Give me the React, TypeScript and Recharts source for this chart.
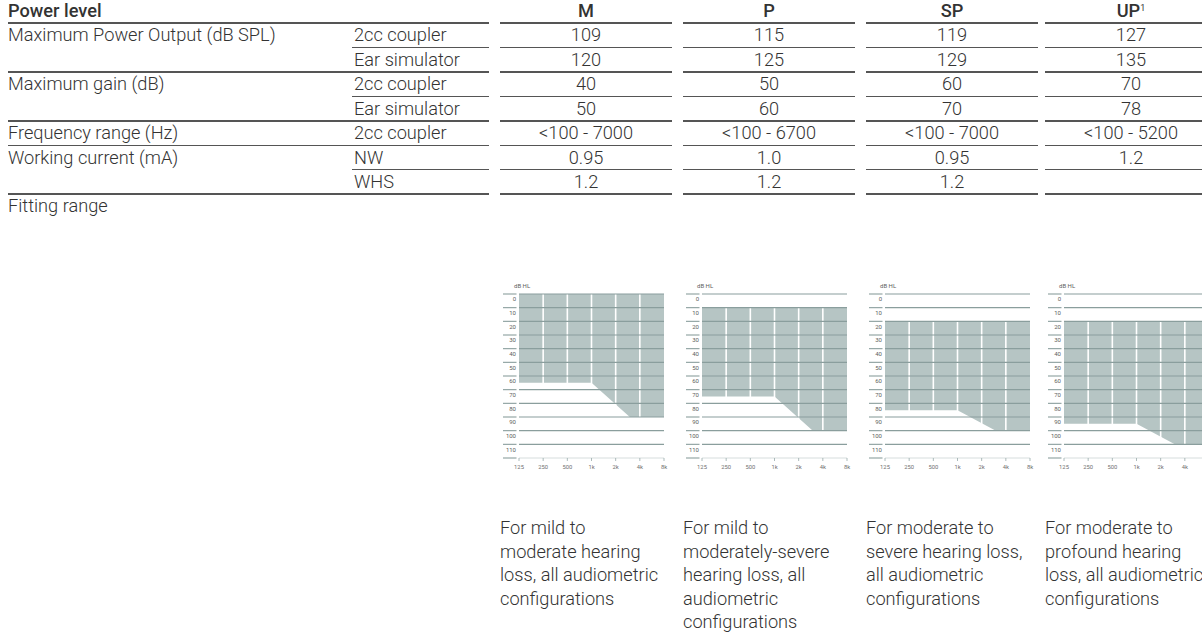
import React from 'react';
import { ComposedChart, Area, XAxis, YAxis, ReferenceLine } from 'recharts';

// ---------- table data ----------
const powerLevels = ['M', 'P', 'SP', 'UP'];
const powerSup = ['', '', '', '1'];
const rowLabels = ['Maximum Power Output (dB SPL)', '', 'Maximum gain (dB)', '', 'Frequency range (Hz)', 'Working current (mA)', ''];
const rowSubLabels = ['2cc coupler', 'Ear simulator', '2cc coupler', 'Ear simulator', '2cc coupler', 'NW', 'WHS'];
const mpo2cc = ['109', '115', '119', '127'];
const mpoEar = ['120', '125', '129', '135'];
const gain2cc = ['40', '50', '60', '70'];
const gainEar = ['50', '60', '70', '78'];
const freqRange = ['<100 - 7000', '<100 - 6700', '<100 - 7000', '<100 - 5200'];
const currentNW = ['0.95', '1.0', '0.95', '1.2'];
const currentWHS = ['1.2', '1.2', '1.2', ''];
const rowValues = [mpo2cc, mpoEar, gain2cc, gainEar, freqRange, currentNW, currentWHS];
const rowFullRule = [false, true, false, true, true, false, true];

// ---------- fitting range data ----------
const fitFreqs = [125, 1000, 3000, 8000];
const topM = [0, 0, 0, 0];
const bottomM = [65, 65, 90, 90];
const topP = [10, 10, 10, 10];
const bottomP = [75, 75, 100, 100];
const topSP = [20, 20, 20, 20];
const bottomSP = [85, 85, 100, 100];
const topUP = [20, 20, 20, 20];
const bottomUP = [95, 95, 110, 110];
const fitTops = [topM, topP, topSP, topUP];
const fitBottoms = [bottomM, bottomP, bottomSP, bottomUP];

const freqTicks = [125, 250, 500, 1000, 2000, 4000, 8000];
const freqTickLabels = ['125', '250', '500', '1k', '2k', '4k', '8k'];
const dbTicks = [0, 10, 20, 30, 40, 50, 60, 70, 80, 90, 100, 110, 120];
const dbTickLabels = ['0', '10', '20', '30', '40', '50', '60', '70', '80', '90', '100', '110', ''];

const captions = [
  ['For mild to', 'moderate hearing', 'loss, all audiometric', 'configurations'],
  ['For mild to', 'moderately-severe', 'hearing loss, all', 'audiometric', 'configurations'],
  ['For moderate to', 'severe hearing loss,', 'all audiometric', 'configurations'],
  ['For moderate to', 'profound hearing', 'loss, all audiometric', 'configurations'],
];

// ---------- layout ----------
const VIEW_W = 1202;
const FONT = 'Roboto, "Open Sans", "DejaVu Sans", sans-serif';
const TEXT = '#333333';
const RULE = '#555555';
const col2X = 352;
const firstRuleStart = 8;
const firstRuleEnd = 489;
const colLefts = [500, 683, 866, 1045];
const colW = 172;
const headerRule = 23;
const pitch = 24.45;
const FILL = '#b6c5c4';
const GRID = '#8a9e9d';

const FreqTick = (props: any) => {
  const { x, y, payload, offsetX } = props;
  const i = freqTicks.indexOf(payload.value);
  const fits = offsetX + x + 4 <= VIEW_W;
  return (
    <g>
      <line x1={x} x2={x} y1={y} y2={y + 3} stroke="#98aaaa" strokeWidth={0.8} />
      {fits ? (
        <text x={x} y={y + 10.5} textAnchor="middle" fontSize={5.8} fill="#707070" fontFamily={FONT}>
          {freqTickLabels[i]}
        </text>
      ) : null}
    </g>
  );
};

const DbTick = (props: any) => {
  const { x, y, payload } = props;
  const i = dbTicks.indexOf(payload.value);
  return (
    <g>
      <line x1={x - 16} x2={x - 2.5} y1={y} y2={y} stroke={GRID} strokeWidth={1.1} />
      <text x={x - 3} y={y + 7.2} textAnchor="end" fontSize={6} fill="#606060" fontFamily={FONT}>
        {dbTickLabels[i]}
      </text>
    </g>
  );
};

function Audiogram({ top, bottom, offsetX }: { top: number[]; bottom: number[]; offsetX: number }) {
  const data = fitFreqs.map((f, i) => ({ f, range: [top[i], bottom[i]] }));
  return (
    <ComposedChart width={colW} height={200} data={data} margin={{ top: 14, right: 8, bottom: 0, left: 0 }}>
      <XAxis
        dataKey="f"
        type="number"
        scale="log"
        domain={[125, 8000]}
        ticks={freqTicks}
        interval={0}
        allowDataOverflow
        height={22}
        tickSize={0}
        tickMargin={0}
        axisLine={{ stroke: '#d6dddd', strokeWidth: 1 }}
        tickLine={false}
        tick={(p: any) => <FreqTick {...p} offsetX={offsetX} />}
      />
      <YAxis
        type="number"
        domain={[0, 120]}
        reversed
        ticks={dbTicks}
        interval={0}
        width={19}
        tickSize={0}
        tickMargin={0}
        axisLine={false}
        tickLine={false}
        tick={(p: any) => <DbTick {...p} />}
      />
      <Area
        dataKey="range"
        type="linear"
        fill={FILL}
        fillOpacity={1}
        stroke="none"
        dot={false}
        activeDot={false}
        isAnimationActive={false}
      />
      {freqTicks.slice(1, -1).map((f) => (
        <ReferenceLine key={'v' + f} x={f} stroke="#ffffff" strokeWidth={1.6} />
      ))}
      {dbTicks.slice(0, -1).map((v) => (
        <ReferenceLine key={'h' + v} y={v} stroke={GRID} strokeWidth={1.2} />
      ))}
    </ComposedChart>
  );
}

const Rule = ({ y, full }: { y: number; full: boolean }) => (
  <>
    <div style={{ position: 'absolute', left: full ? firstRuleStart : col2X, width: firstRuleEnd - (full ? firstRuleStart : col2X), top: y - 0.75, height: 1.5, background: RULE }} />
    {colLefts.map((cx, i) => (
      <div key={i} style={{ position: 'absolute', left: cx, width: colW, top: y - 0.75, height: 1.5, background: RULE }} />
    ))}
  </>
);

const Cell = ({ x, cy, w, align, children, bold }: any) => (
  <div
    style={{
      position: 'absolute',
      left: x,
      width: w,
      top: cy - 12,
      height: 24,
      lineHeight: '24px',
      textAlign: align,
      whiteSpace: 'nowrap',
      fontWeight: bold ? 500 : 300,
    }}
  >
    {children}
  </div>
);

export default function App() {
  const ruleYs = rowLabels.map((_, i) => headerRule + pitch * (i + 1));
  const centers = rowLabels.map((_, i) => headerRule + pitch * i + 12.3);
  const fittingCy = headerRule + pitch * 7 + 12;
  return (
    <div
      style={{
        position: 'absolute',
        left: 0,
        top: 0,
        width: VIEW_W,
        height: 637,
        overflow: 'hidden',
        background: '#fff',
        fontFamily: FONT,
        fontSize: 18.2,
        color: TEXT,
      }}
    >
      {/* header */}
      <Cell x={8} cy={11} w={300} align="left" bold>Power level</Cell>
      {powerLevels.map((p, i) => (
        <Cell key={p} x={colLefts[i]} cy={11} w={colW} align="center" bold>
          {p}
          {powerSup[i] ? <sup style={{ fontSize: 9, fontWeight: 400, verticalAlign: 'top', lineHeight: '18px' }}>{powerSup[i]}</sup> : null}
        </Cell>
      ))}
      <Rule y={headerRule} full />
      {rowLabels.map((lab, r) => (
        <React.Fragment key={r}>
          {lab ? <Cell x={8} cy={centers[r]} w={340} align="left">{lab}</Cell> : null}
          <Cell x={col2X + 2} cy={centers[r]} w={140} align="left">{rowSubLabels[r]}</Cell>
          {rowValues[r].map((v, i) => (
            <Cell key={i} x={colLefts[i]} cy={centers[r]} w={colW} align="center">{v}</Cell>
          ))}
          <Rule y={ruleYs[r]} full={rowFullRule[r]} />
        </React.Fragment>
      ))}
      <Cell x={8} cy={fittingCy} w={300} align="left">Fitting range</Cell>

      {/* audiograms */}
      {colLefts.map((cx, i) => (
        <React.Fragment key={'ch' + i}>
          <div style={{ position: 'absolute', left: cx + 14, top: 282, fontSize: 6, lineHeight: '8px', color: '#606060', whiteSpace: 'nowrap' }}>dB HL</div>
          <div style={{ position: 'absolute', left: cx, top: 280 }}>
            <Audiogram top={fitTops[i]} bottom={fitBottoms[i]} offsetX={cx} />
          </div>
          <div style={{ position: 'absolute', left: cx, top: 516, width: colW + 20, lineHeight: '23.5px', fontWeight: 300, whiteSpace: 'nowrap' }}>
            {captions[i].map((line, k) => (
              <div key={k}>{line}</div>
            ))}
          </div>
        </React.Fragment>
      ))}
    </div>
  );
}
